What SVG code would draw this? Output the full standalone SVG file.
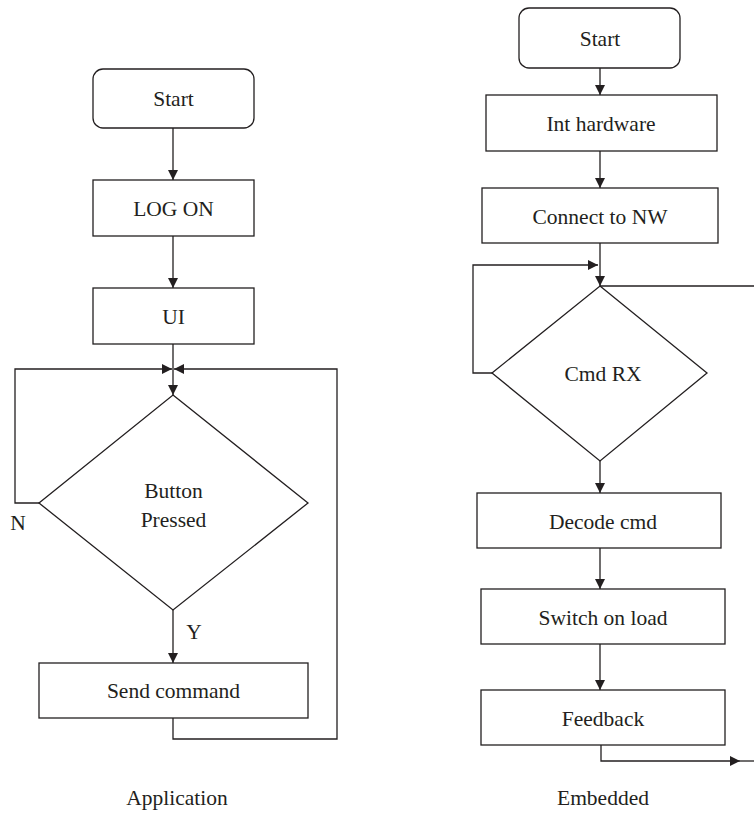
<svg xmlns="http://www.w3.org/2000/svg" width="754" height="816" viewBox="0 0 754 816">
  <defs>
    <marker id="arrow" viewBox="0 0 10 10" refX="10" refY="5" markerWidth="10" markerHeight="10" markerUnits="userSpaceOnUse" orient="auto">
      <path d="M0,0 L10,5 L0,10 Z" fill="#231f20"/>
    </marker>
  </defs>
  <style>
    .shape { fill: #ffffff; stroke: #231f20; stroke-width: 1.3; }
    .link { fill: none; stroke: #231f20; stroke-width: 1.3; }
    .label { font-family: "Liberation Serif", "Times New Roman", serif; font-size: 21.5px; fill: #231f20; text-anchor: middle; }
  </style>
  <rect width="754" height="816" fill="#ffffff"/>

  <!-- connectors -->
  <g id="connectors">
    <!-- application flow -->
    <path class="link" d="M173,128 V180" marker-end="url(#arrow)"/>
    <path class="link" d="M173,236 V288" marker-end="url(#arrow)"/>
    <path class="link" d="M173,344 V395" marker-end="url(#arrow)"/>
    <path class="link" d="M39,503 H15 V369 H172" marker-end="url(#arrow)"/>
    <path class="link" d="M173,610 V663" marker-end="url(#arrow)"/>
    <path class="link" d="M173,718 V739 H337 V369 H174" marker-end="url(#arrow)"/>
    <!-- embedded flow -->
    <path class="link" d="M600,68 V95" marker-end="url(#arrow)"/>
    <path class="link" d="M600,151 V188" marker-end="url(#arrow)"/>
    <path class="link" d="M600,243 V286" marker-end="url(#arrow)"/>
    <path class="link" d="M600,286 H754"/>
    <path class="link" d="M492,373 H473 V265 H598" marker-end="url(#arrow)"/>
    <path class="link" d="M600,461 V493" marker-end="url(#arrow)"/>
    <path class="link" d="M600,548 V589" marker-end="url(#arrow)"/>
    <path class="link" d="M600,644 V690" marker-end="url(#arrow)"/>
    <path class="link" d="M601,745 V761 H740" marker-end="url(#arrow)"/>
    <path class="link" d="M740,761 H754"/>
  </g>

  <!-- application nodes -->
  <g id="app-start">
    <rect class="shape" x="93" y="69" width="161" height="59" rx="10"/>
    <text class="label" x="173.5" y="106">Start</text>
  </g>
  <g id="app-logon">
    <rect class="shape" x="93" y="180" width="161" height="56"/>
    <text class="label" x="173.5" y="216">LOG ON</text>
  </g>
  <g id="app-ui">
    <rect class="shape" x="93" y="288" width="161" height="56"/>
    <text class="label" x="173.5" y="324">UI</text>
  </g>
  <g id="app-decision">
    <polygon class="shape" points="173,395 308,503 173,610 39,503"/>
    <text class="label" x="173.5" y="498">Button</text>
    <text class="label" x="173.5" y="527">Pressed</text>
  </g>
  <g id="app-send">
    <rect class="shape" x="39" y="663" width="269" height="55"/>
    <text class="label" x="173.5" y="698">Send command</text>
  </g>
  <text class="label" x="18" y="530">N</text>
  <text class="label" x="194" y="639">Y</text>
  <text class="label" x="177" y="805">Application</text>

  <!-- embedded nodes -->
  <g id="emb-start">
    <rect class="shape" x="519" y="8" width="161" height="60" rx="10"/>
    <text class="label" x="600" y="46">Start</text>
  </g>
  <g id="emb-init">
    <rect class="shape" x="486" y="95" width="231" height="56"/>
    <text class="label" x="601" y="131">Int hardware</text>
  </g>
  <g id="emb-connect">
    <rect class="shape" x="482" y="188" width="236" height="55"/>
    <text class="label" x="600" y="224">Connect to NW</text>
  </g>
  <g id="emb-decision">
    <polygon class="shape" points="600,286 707,373 600,461 492,373"/>
    <text class="label" x="603" y="381">Cmd RX</text>
  </g>
  <g id="emb-decode">
    <rect class="shape" x="477" y="493" width="244" height="55"/>
    <text class="label" x="603" y="529">Decode cmd</text>
  </g>
  <g id="emb-switch">
    <rect class="shape" x="481" y="589" width="244" height="55"/>
    <text class="label" x="603" y="625">Switch on load</text>
  </g>
  <g id="emb-feedback">
    <rect class="shape" x="481" y="690" width="244" height="55"/>
    <text class="label" x="603" y="726">Feedback</text>
  </g>
  <text class="label" x="603" y="805">Embedded</text>
</svg>
